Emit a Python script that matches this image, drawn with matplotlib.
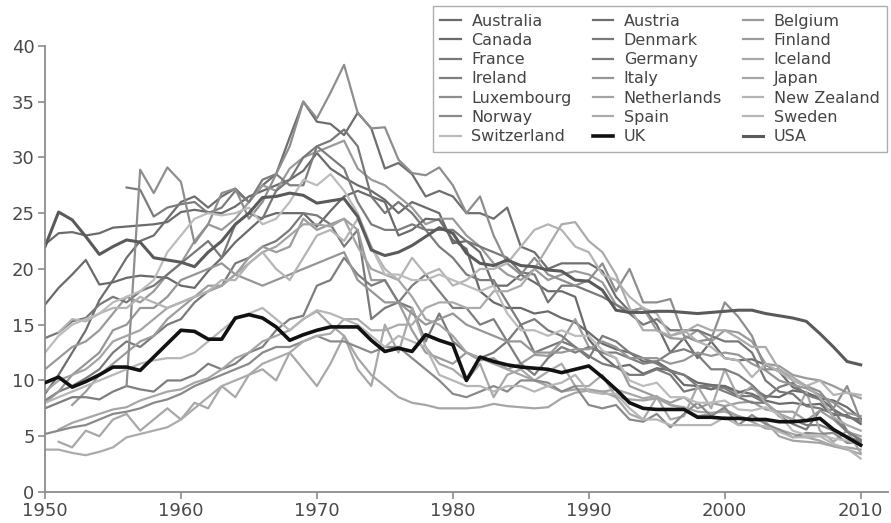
import matplotlib.pyplot as plt
import numpy as np

plt.rcParams['font.family'] = ['DejaVu Sans']

countries = ['Australia', 'Austria', 'Belgium', 'Canada', 'Denmark', 'Finland',
             'France', 'Germany', 'Iceland', 'Ireland', 'Italy', 'Japan',
             'Luxembourg', 'Netherlands', 'New Zealand', 'Norway', 'Spain',
             'Sweden', 'Switzerland', 'UK', 'USA']

# first year of each series
first_year = [1950, 1950, 1950, 1950, 1950, 1952, 1950, 1956, 1951, 1950, 1950,
              1951, 1956, 1950, 1951, 1950, 1950, 1950, 1950, 1950, 1950]

australia = [22.2, 23.2, 23.3, 23.0, 23.2, 23.7, 23.8, 23.9, 24.0, 24.2,
             25.1, 25.3, 25.1, 25.0, 25.6, 26.5, 27.0, 27.5, 28.0, 28.8,
             30.4, 29.0, 28.2, 27.5, 27.0, 26.2, 25.0, 26.0, 25.5, 25.0,
             22.3, 22.5, 21.5, 18.5, 18.5, 19.5, 18.8, 18.0, 18.0, 17.5,
             13.7, 12.2, 11.2, 11.4, 10.6, 11.1, 10.9, 9.6, 9.5, 9.2,
             9.5, 9.0, 8.8, 8.2, 7.9, 8.0, 7.8, 7.9, 6.9, 6.9, 6.1]
austria = [8.8, 10.5, 12.5, 14.5, 17.2, 19.0, 21.0, 22.5, 23.0, 24.5,
           26.0, 26.5, 25.5, 26.5, 27.2, 26.0, 27.5, 28.5, 31.8, 35.0,
           33.2, 33.0, 32.0, 34.0, 32.6, 29.0, 29.5, 28.5, 26.5, 27.0,
           26.5, 25.0, 25.0, 24.5, 25.5, 22.0, 21.5, 20.0, 20.5, 20.5,
           20.5, 19.8, 17.5, 16.2, 16.5, 15.0, 12.5, 13.8, 12.0, 13.5,
           12.0, 11.8, 11.9, 11.4, 10.8, 9.4, 8.9, 8.4, 8.2, 7.6, 6.6]
belgium = [11.0, 12.0, 13.0, 13.5, 14.5, 16.0, 17.5, 17.0, 18.0, 19.5,
           20.5, 22.5, 24.0, 23.5, 24.5, 26.0, 27.5, 27.0, 29.0, 30.0,
           30.5, 31.0, 31.5, 29.0, 28.0, 27.5, 26.5, 25.5, 24.0, 24.5,
           24.5, 23.0, 22.0, 20.5, 19.5, 19.0, 20.0, 19.0, 19.5, 19.8,
           19.5, 18.8, 16.8, 16.2, 16.5, 14.5, 13.8, 13.7, 14.5, 13.5,
           14.5, 14.3, 13.5, 11.5, 11.3, 10.5, 10.2, 10.0, 9.5, 8.9, 8.4]
canada = [16.8, 18.3, 19.5, 20.8, 18.6, 18.8, 19.2, 19.4, 19.3, 19.2,
          18.5, 18.3, 19.8, 21.0, 22.4, 23.5, 24.6, 25.0, 25.0, 25.0,
          23.8, 25.2, 26.5, 27.0, 26.5, 26.0, 23.0, 23.5, 24.5, 24.4,
          22.6, 21.8, 18.0, 17.0, 16.5, 16.5, 16.0, 16.2, 15.6, 15.2,
          14.3, 13.3, 12.8, 12.5, 11.7, 11.7, 10.9, 10.5, 9.8, 9.6,
          9.5, 8.9, 9.3, 8.6, 8.5, 9.1, 8.9, 8.4, 7.4, 6.7, 6.5]
denmark = [8.2, 9.0, 9.5, 10.2, 11.0, 12.5, 13.5, 13.0, 14.0, 15.0,
           15.5, 17.0, 18.0, 18.5, 20.5, 21.0, 22.0, 22.5, 23.5, 25.0,
           24.8, 24.0, 22.0, 23.5, 15.5, 16.5, 17.0, 16.5, 13.5, 16.0,
           13.5, 12.5, 12.0, 12.5, 13.5, 15.0, 12.5, 13.0, 13.5, 13.0,
           12.2, 11.5, 11.2, 10.5, 10.5, 11.0, 10.5, 9.0, 9.3, 9.5,
           9.3, 8.6, 8.6, 8.0, 6.8, 6.1, 5.6, 7.3, 7.4, 5.5, 4.6]
finland = [7.8, 9.0, 10.5, 11.5, 12.5, 13.5, 14.0, 15.5,
           16.5, 17.5, 18.5, 18.5, 19.5, 21.0, 22.0, 21.5, 22.0, 24.5,
           23.5, 24.0, 24.5, 23.5, 19.0, 19.0, 17.0, 14.5, 12.5, 12.0,
           11.5, 12.5, 11.8, 12.0, 11.0, 11.5, 12.3, 12.2, 13.5, 15.5,
           13.0, 12.5, 12.0, 9.5, 9.0, 8.5, 8.0, 8.5, 7.5, 8.0,
           7.7, 8.0, 8.1, 7.4, 7.2, 7.2, 6.4, 7.3, 6.5, 5.4, 5.0]
france = [13.8, 14.3, 15.3, 15.6, 16.8, 17.5, 17.0, 18.0, 18.5, 19.5,
          20.5, 21.5, 22.5, 21.0, 24.0, 25.0, 24.5, 27.0, 28.0, 30.0,
          31.0, 31.5, 32.5, 31.0, 26.5, 25.0, 26.0, 25.0, 23.5, 23.5,
          23.5, 22.5, 22.0, 21.5, 21.0, 19.7, 19.5, 17.0, 18.5, 18.5,
          18.0, 17.5, 16.8, 16.0, 15.0, 15.5, 14.5, 14.5, 14.5, 14.0,
          13.5, 13.5, 12.5, 10.0, 9.0, 8.8, 7.7, 7.5, 7.0, 6.8, 6.3]
germany = [27.3, 27.1, 24.7, 25.5,
           25.8, 26.0, 25.0, 25.5, 27.0, 26.0, 28.0, 28.5, 27.5, 27.5,
           31.0, 30.0, 29.0, 26.0, 24.0, 23.5, 23.5, 24.0, 23.5, 22.0,
           21.0, 19.5, 19.0, 19.0, 17.0, 15.0, 15.5, 14.5, 14.0, 13.0,
           12.0, 14.0, 13.5, 12.5, 12.0, 11.5, 10.8, 10.5, 9.5, 9.5,
           9.0, 8.5, 8.0, 8.0, 7.0, 6.5, 6.0, 6.0, 5.5, 5.0, 4.5]
iceland = [4.5, 4.0, 5.5, 5.0, 6.5, 7.0, 5.5, 6.5, 7.5,
           6.5, 8.0, 7.5, 9.5, 8.5, 10.5, 11.0, 10.0, 12.5, 11.0,
           9.5, 11.5, 14.0, 11.0, 9.5, 15.0, 12.5, 16.5, 13.0, 11.5,
           11.0, 10.0, 11.5, 8.5, 10.5, 11.0, 10.0, 10.8, 11.5, 9.5,
           9.5, 10.5, 8.5, 7.0, 6.5, 8.5, 6.5, 6.8, 9.5, 7.5,
           11.0, 8.5, 9.5, 8.0, 7.0, 6.5, 9.0, 5.5, 4.5, 5.5, 3.5]
ireland = [7.5, 8.0, 8.5, 8.5, 8.3, 9.0, 9.5, 9.2, 9.0, 10.0,
           10.0, 10.5, 11.5, 11.0, 11.5, 12.5, 13.0, 14.5, 15.5, 15.8,
           18.5, 19.0, 21.0, 19.5, 18.5, 19.0, 17.0, 18.5, 19.5, 18.0,
           16.5, 16.5, 15.0, 15.5, 13.5, 11.5, 10.5, 12.0, 13.0, 12.5,
           13.0, 12.5, 12.5, 12.0, 11.5, 11.7, 12.5, 12.8, 12.3, 11.0,
           11.0, 10.5, 9.6, 8.4, 9.4, 9.8, 8.7, 8.3, 6.7, 5.4, 4.7]
italy = [8.0, 9.0, 10.5, 11.5, 12.5, 14.5, 15.0, 16.5, 16.5, 17.5,
         19.0, 19.5, 20.0, 20.5, 19.5, 19.0, 18.5, 19.0, 19.5, 20.0,
         20.5, 21.0, 21.5, 19.0, 18.0, 17.0, 17.0, 16.0, 15.0, 15.5,
         16.0, 15.0, 14.5, 14.0, 13.5, 13.5, 12.5, 12.5, 12.5, 12.8,
         12.8, 13.5, 13.0, 12.0, 12.0, 12.0, 11.5, 11.8, 12.5, 12.2,
         12.5, 12.3, 11.5, 10.9, 10.0, 9.6, 9.3, 8.7, 8.0, 7.1, 6.8]
japan = [5.6, 6.2, 6.6, 7.0, 7.4, 7.6, 8.2, 8.6, 9.0,
         9.2, 9.8, 10.2, 11.0, 12.0, 12.5, 13.5, 14.0, 14.5, 15.5,
         16.2, 15.0, 14.0, 12.0, 10.5, 9.5, 8.5, 8.0, 7.8, 7.5,
         7.5, 7.5, 7.6, 7.9, 7.7, 7.6, 7.5, 7.6, 8.4, 8.9,
         9.1, 9.0, 9.2, 8.8, 8.4, 8.6, 7.8, 7.6, 7.2, 7.1,
         7.2, 6.8, 6.3, 5.7, 5.6, 5.2, 4.9, 4.6, 4.1, 3.8, 3.4]
luxembourg = [9.5, 28.9, 26.8, 29.1,
              27.8, 22.3, 24.0, 26.8, 27.2, 24.5, 26.0, 28.5, 31.0, 35.0,
              33.5, 35.8, 38.3, 34.0, 32.6, 32.7, 29.8, 28.6, 28.4, 29.1,
              27.5, 25.0, 26.5, 23.0, 20.5, 19.5, 21.0, 19.5, 19.0, 18.5,
              19.0, 20.5, 18.0, 20.0, 17.0, 17.0, 17.3, 14.0, 13.5, 13.7,
              17.0, 15.7, 14.0, 11.0, 11.0, 10.0, 9.5, 9.0, 7.5, 9.5, 6.4]
netherlands = [9.0, 10.0, 10.5, 11.0, 12.0, 13.5, 14.0, 14.5, 15.5, 16.5,
               17.0, 17.5, 18.0, 18.5, 19.5, 20.5, 21.5, 22.0, 23.0, 24.0,
               24.0, 23.8, 24.5, 22.0, 20.0, 19.5, 19.0, 17.5, 15.5, 15.0,
               14.0, 12.5, 12.0, 11.5, 11.0, 10.5, 10.0, 9.5, 9.0, 9.2,
               9.2, 9.0, 8.5, 8.3, 8.2, 8.4, 7.8, 7.5, 6.8, 7.0,
               7.4, 6.8, 6.5, 6.3, 5.0, 4.6, 4.5, 4.4, 4.1, 4.0, 3.8]
new_zealand = [14.3, 15.5, 15.3, 16.0, 16.5, 16.5, 17.5, 17.0, 16.5,
               17.0, 17.5, 18.0, 19.0, 19.0, 20.5, 21.5, 20.0, 19.0, 21.0,
               23.0, 23.5, 22.5, 24.5, 22.0, 20.0, 19.0, 21.0, 19.5, 20.0,
               18.5, 19.0, 20.0, 20.0, 20.5, 22.0, 23.5, 24.0, 23.5, 22.0,
               21.5, 19.5, 19.0, 17.5, 16.5, 16.0, 14.0, 14.5, 13.5, 13.0,
               12.0, 11.8, 10.3, 11.5, 10.8, 10.0, 9.5, 10.0, 8.7, 8.9, 8.7]
norway = [5.2, 5.5, 5.8, 6.0, 6.5, 7.0, 7.2, 7.5, 8.0, 8.3,
          8.8, 9.5, 10.0, 10.5, 11.0, 11.5, 12.5, 13.0, 13.0, 13.5,
          14.0, 13.5, 13.5, 13.0, 12.5, 13.0, 13.0, 12.0, 11.0, 10.0,
          8.8, 8.5, 9.0, 9.5, 9.0, 10.0, 10.0, 9.8, 9.0, 9.5,
          7.8, 7.5, 7.8, 6.5, 6.3, 7.0, 5.8, 7.0, 8.0, 6.8,
          7.6, 6.0, 6.9, 6.1, 5.6, 4.9, 5.3, 5.2, 5.3, 4.4, 4.4]
spain = [3.8, 3.8, 3.5, 3.3, 3.6, 4.0, 4.9, 5.2, 5.5, 5.8,
         6.5, 7.5, 8.5, 9.5, 10.0, 10.5, 11.5, 12.0, 12.5, 13.5,
         14.0, 14.2, 15.5, 15.5, 14.5, 14.5, 15.0, 15.0, 16.5, 17.0,
         17.0, 16.5, 16.5, 18.0, 18.0, 18.5, 20.0, 22.0, 24.0, 24.2,
         22.5, 21.5, 19.5, 16.5, 14.5, 14.5, 14.0, 14.3, 15.0, 14.5,
         14.5, 13.8, 13.0, 13.0, 11.0, 10.3, 9.5, 8.5, 6.7, 6.0, 5.5]
sweden = [8.0, 8.5, 9.0, 9.5, 10.0, 10.5, 11.0, 11.5, 11.8, 12.0,
          12.0, 12.5, 13.5, 14.5, 15.5, 16.0, 16.5, 15.5, 14.5, 15.5,
          16.3, 16.0, 15.5, 15.0, 14.0, 13.0, 14.0, 13.5, 13.0, 10.5,
          10.0, 9.5, 9.5, 9.0, 9.5, 9.5, 9.0, 9.5, 9.8, 10.5,
          9.0, 8.8, 8.8, 7.5, 6.5, 6.5, 6.0, 6.0, 6.0, 6.0,
          6.7, 6.0, 6.0, 5.9, 5.4, 4.9, 4.9, 5.0, 4.3, 3.9, 3.0]
switzerland = [12.5, 14.0, 15.0, 15.5, 16.0, 17.0, 17.5, 18.0, 19.0, 21.5,
               23.0, 24.5, 25.0, 24.8, 25.0, 25.5, 24.0, 24.5, 26.0, 28.0,
               27.5, 28.5, 27.0, 25.0, 22.0, 19.5, 19.5, 19.0, 19.0, 19.5,
               19.0, 18.5, 18.0, 18.5, 16.0, 14.5, 14.5, 14.0, 14.5, 14.0,
               14.0, 12.7, 12.0, 10.0, 9.5, 9.8, 8.5, 8.5, 8.0, 8.0,
               8.2, 7.4, 7.3, 7.6, 6.9, 5.5, 5.1, 5.1, 4.8, 4.6, 4.2]
uk = [9.8, 10.3, 9.4, 9.9, 10.5, 11.2, 11.2, 10.9, 12.1, 13.3,
      14.5, 14.4, 13.7, 13.7, 15.6, 15.9, 15.6, 14.8, 13.6, 14.1,
      14.5, 14.8, 14.8, 14.8, 13.6, 12.6, 12.9, 12.6, 14.1, 13.6,
      13.2, 10.0, 12.1, 11.7, 11.4, 11.2, 11.1, 11.0, 10.7, 11.0,
      11.3, 10.3, 9.2, 8.0, 7.5, 7.4, 7.4, 7.4, 6.7, 6.7,
      6.6, 6.6, 6.5, 6.5, 6.3, 6.3, 6.4, 6.6, 5.6, 4.9, 4.2]
usa = [22.0, 25.1, 24.4, 22.9, 21.3, 22.0, 22.6, 22.4, 21.0, 20.8,
       20.6, 20.2, 21.5, 22.5, 24.0, 25.0, 26.4, 26.5, 26.8, 26.6,
       25.9, 26.1, 26.3, 24.7, 21.7, 21.2, 21.5, 22.1, 22.9, 23.7,
       23.2, 21.4, 20.5, 20.3, 20.8, 20.3, 20.2, 19.9, 19.8, 19.0,
       18.9, 18.1, 16.3, 16.1, 16.1, 16.2, 16.2, 16.1, 16.0, 16.1,
       16.2, 16.3, 16.3, 16.0, 15.8, 15.6, 15.3, 14.2, 13.0, 11.7, 11.4]

series = [australia, austria, belgium, canada, denmark, finland, france,
          germany, iceland, ireland, italy, japan, luxembourg, netherlands,
          new_zealand, norway, spain, sweden, switzerland, uk, usa]

colors = ['#6b6b6b', '#6e6e6e', '#9a9a9a', '#6a6a6a', '#7a7a7a', '#9c9c9c',
          '#787878', '#7c7c7c', '#a8a8a8', '#7e7e7e', '#969696', '#a6a6a6',
          '#8e8e8e', '#a4a4a4', '#b4b4b4', '#8a8a8a', '#ababab', '#b6b6b6',
          '#bcbcbc', '#111111', '#5a5a5a']
widths = [1.6] * 19 + [2.6, 2.2]

fig = plt.figure(figsize=(8.91, 5.23), dpi=100)
ax = fig.add_axes([0.0505, 0.0593, 0.946, 0.853])

handles = []
for i, (name, vals) in enumerate(zip(countries, series)):
    yrs = np.arange(first_year[i], first_year[i] + len(vals))
    z = 3 if name == 'UK' else 2
    h, = ax.plot(yrs, vals, color=colors[i], lw=widths[i], label=name, zorder=z)
    handles.append(h)

ax.set_xlim(1950, 2012)
ax.set_ylim(0, 40)
ax.set_xticks(range(1950, 2011, 10))
ax.set_yticks(range(0, 41, 5))
for s in ['top', 'right']:
    ax.spines[s].set_visible(False)
for s in ['left', 'bottom']:
    ax.spines[s].set_color('#8c8c8c')
    ax.spines[s].set_linewidth(1.3)
ax.tick_params(colors='#8c8c8c', labelcolor='#4a4a4a', labelsize=13, length=5,
               width=1.2, pad=2.5)

# legend reads row by row (3 columns)
order = [i for c in range(3) for i in range(c, 21, 3)]
leg = fig.legend([handles[i] for i in order], [countries[i] for i in order],
                 loc='upper right', bbox_to_anchor=(0.999, 0.994), ncol=3,
                 fontsize=11.5, frameon=True, fancybox=False, handlelength=1.3,
                 handletextpad=0.65, columnspacing=1.3, labelspacing=0.27,
                 borderpad=0.45, borderaxespad=0.2)
leg.get_frame().set_edgecolor('#999999')
leg.get_frame().set_linewidth(1.0)
for t in leg.get_texts():
    t.set_color('#444444')

fig.savefig('out.png', dpi=100)
